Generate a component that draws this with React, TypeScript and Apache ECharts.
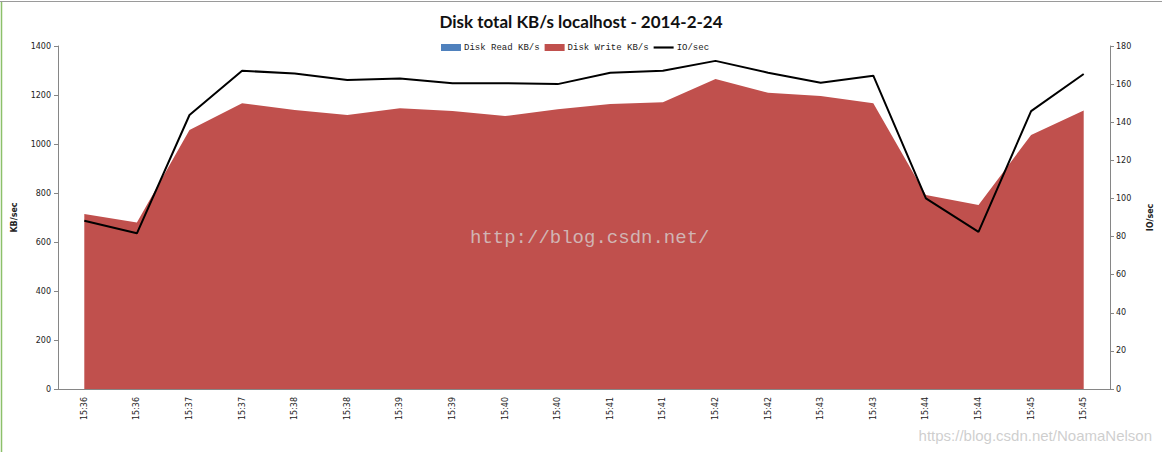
import React, { useEffect, useRef } from "react";
import * as echarts from "echarts";

const categories = [
  "15:36", "15:36", "15:37", "15:37", "15:38", "15:38", "15:39", "15:39", "15:40", "15:40",
  "15:41", "15:41", "15:42", "15:42", "15:43", "15:43", "15:44", "15:44", "15:45", "15:45",
];
const diskRead = [0, 0, 0, 0, 0, 0, 0, 0, 0, 0, 0, 0, 0, 0, 0, 0, 0, 0, 0, 0];
const diskWrite = [
  714, 680, 1057, 1166, 1139, 1118, 1146, 1135, 1114, 1142,
  1163, 1170, 1265, 1209, 1196, 1166, 792, 751, 1037, 1137,
];
const ioPerSec = [
  88.3, 81.7, 143.8, 167, 165.6, 162.1, 163, 160.5, 160.5, 160,
  166, 167, 172.2, 166, 160.7, 164.4, 100, 82.5, 145.8, 165.3,
];
const leftTicks = { min: 0, max: 1400, interval: 200 };
const rightTicks = { min: 0, max: 180, interval: 20 };

const AXIS_GRAY = "#868686";
const LABEL_FONT = "DejaVu Sans";

export default function App() {
  const ref = useRef<HTMLDivElement>(null);
  useEffect(() => {
    if (!ref.current) return;
    const chart = echarts.init(ref.current, undefined, { renderer: "svg" });
    chart.setOption({
      animation: false,
      backgroundColor: "#ffffff",
      title: {
        text: "Disk total KB/s localhost - 2014-2-24",
        left: "center",
        top: 8,
        textStyle: { fontFamily: "Lato", fontWeight: "bold", fontSize: 17, color: "#111" },
      },
      legend: {
        top: 38,
        left: 436,
        itemWidth: 20,
        itemHeight: 7,
        itemGap: 5,
        textStyle: { fontFamily: "Liberation Mono", fontSize: 9, color: "#222", padding: [0, 0, 0, -2] },
        data: [
          { name: "Disk Read KB/s", icon: "rect" },
          { name: "Disk Write KB/s", icon: "rect" },
          { name: "IO/sec", icon: "path://M0,0 L28,0 L28,3 L0,3 Z" },
        ],
      },
      grid: { left: 58, right: 52, top: 46, bottom: 63 },
      xAxis: {
        type: "category",
        data: categories,
        boundaryGap: true,
        axisLine: { lineStyle: { color: AXIS_GRAY, width: 1 } },
        axisTick: { show: false },
        axisLabel: {
          rotate: 90,
          interval: 0,
          fontFamily: LABEL_FONT,
          fontSize: 8,
          color: "#222",
          margin: 8,
        },
      },
      yAxis: [
        {
          type: "value",
          min: leftTicks.min,
          max: leftTicks.max,
          interval: leftTicks.interval,
          name: "KB/sec",
          nameLocation: "middle",
          nameGap: 40,
          nameRotate: 90,
          nameTextStyle: { fontFamily: LABEL_FONT, fontWeight: "bold", fontSize: 8, color: "#222" },
          axisLine: { show: true, lineStyle: { color: AXIS_GRAY } },
          axisTick: { show: true, length: 4, lineStyle: { color: AXIS_GRAY } },
          axisLabel: {
            fontFamily: LABEL_FONT,
            fontSize: 8,
            color: "#222",
            margin: 7,
            formatter: (v: number) => String(v),
          },
          splitLine: { show: false },
        },
        {
          type: "value",
          position: "right",
          min: rightTicks.min,
          max: rightTicks.max,
          interval: rightTicks.interval,
          name: "IO/sec",
          nameLocation: "middle",
          nameGap: 36,
          nameRotate: 90,
          nameTextStyle: { fontFamily: LABEL_FONT, fontWeight: "bold", fontSize: 8, color: "#222" },
          axisLine: { show: true, lineStyle: { color: AXIS_GRAY } },
          axisTick: { show: true, length: 4, lineStyle: { color: AXIS_GRAY } },
          axisLabel: {
            fontFamily: LABEL_FONT,
            fontSize: 8,
            color: "#222",
            margin: 6,
            formatter: (v: number) => String(v),
          },
          splitLine: { show: false },
        },
      ],
      series: [
        {
          name: "Disk Read KB/s",
          type: "line",
          stack: "disk",
          data: diskRead,
          symbol: "none",
          itemStyle: { color: "#4F81BD" },
          lineStyle: { width: 0, color: "#4F81BD" },
          areaStyle: { color: "#4F81BD", opacity: 1 },
          z: 1,
        },
        {
          name: "Disk Write KB/s",
          type: "line",
          stack: "disk",
          data: diskWrite,
          symbol: "none",
          itemStyle: { color: "#C0504D" },
          lineStyle: { width: 0, color: "#C0504D" },
          areaStyle: { color: "#C0504D", opacity: 1 },
          z: 2,
        },
        {
          name: "IO/sec",
          type: "line",
          yAxisIndex: 1,
          data: ioPerSec,
          symbol: "none",
          itemStyle: { color: "#000000" },
          lineStyle: { width: 2, color: "#000000" },
          z: 3,
        },
      ],
      graphic: [
        {
          type: "line",
          shape: { x1: 0, y1: 1.5, x2: 1162, y2: 1.5 },
          style: { stroke: "#9a9a9a", lineWidth: 1 },
          silent: true,
        },
        {
          type: "line",
          shape: { x1: 1.5, y1: 2, x2: 1.5, y2: 452 },
          style: { stroke: "#8cc06a", lineWidth: 1.5 },
          silent: true,
        },
        {
          type: "text",
          left: 470,
          top: 228,
          style: {
            text: "http://blog.csdn.net/",
            fontFamily: "Liberation Mono",
            fontSize: 19,
            fill: "rgba(215,215,215,0.75)",
          },
          silent: true,
          z: 10,
        },
        {
          type: "text",
          right: 10,
          top: 428,
          style: {
            text: "https://blog.csdn.net/NoamaNelson",
            fontFamily: "Liberation Sans",
            fontSize: 15,
            fill: "rgba(190,190,190,0.75)",
          },
          silent: true,
          z: 10,
        },
      ],
    });
    return () => chart.dispose();
  }, []);
  return (
    <div
      ref={ref}
      style={{ position: "fixed", left: 0, top: 0, width: 1162, height: 452 }}
    />
  );
}
